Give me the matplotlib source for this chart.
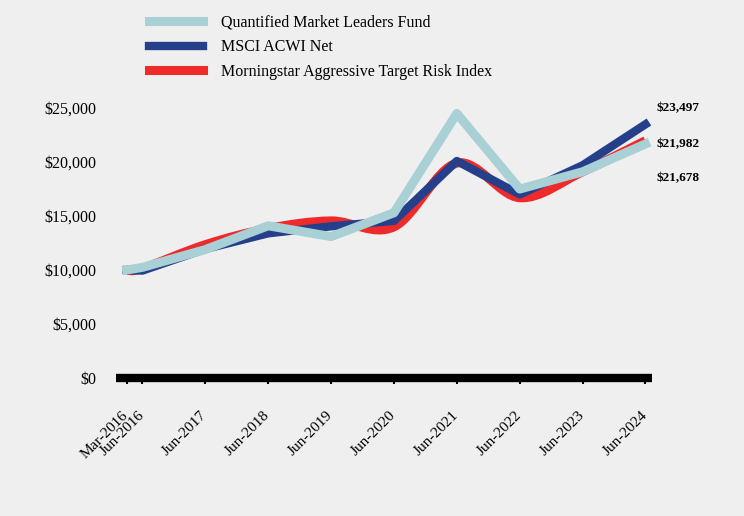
import numpy as np
import matplotlib.pyplot as plt
import matplotlib.transforms as mtransforms
from matplotlib.path import Path
from matplotlib.patches import PathPatch
from matplotlib.lines import Line2D

# data
periods = ["Mar-2016", "Jun-2016", "Jun-2017", "Jun-2018", "Jun-2019",
           "Jun-2020", "Jun-2021", "Jun-2022", "Jun-2023", "Jun-2024"]
x_pos = [2016.17, 2016.42, 2017.42, 2018.42, 2019.42,
         2020.42, 2021.42, 2022.42, 2023.42, 2024.42]
fund = [10000, 10250, 11900, 14100, 13100, 15300, 24500, 17500, 19100, 21678]
acwi = [10000, 9950, 11950, 13400, 14050, 14550, 20100, 17000, 19700, 23497]
morningstar = [10000, 10150, 12350, 13850, 14550, 14000, 19900, 16700, 19100, 21982]
end_labels = ["$23,497", "$21,982", "$21,678"]

BG = '#efefef'
C_FUND = '#a8d0d5'
C_ACWI = '#253f8b'
C_MS = '#ee2a2a'

plt.rcParams['font.family'] = ['Liberation Serif', 'DejaVu Serif']

fig = plt.figure(figsize=(7.44, 5.16), dpi=100, facecolor=BG)
ax = fig.add_axes([0.156, 0.2674, 0.72, 0.565], facecolor=BG)


def smooth_path(xs, ys, t=0.5):
    # catmull-rom style bezier through the points (drawing only)
    pts = np.column_stack([xs, ys]).astype(float)
    verts = [tuple(pts[0])]
    codes = [Path.MOVETO]
    n = len(pts)
    for i in range(n - 1):
        p0 = pts[max(i - 1, 0)]
        p1 = pts[i]
        p2 = pts[i + 1]
        p3 = pts[min(i + 2, n - 1)]
        c1 = p1 + (p2 - p0) * t / 3
        c2 = p2 - (p3 - p1) * t / 3
        verts += [tuple(c1), tuple(c2), tuple(p2)]
        codes += [Path.CURVE4] * 3
    return Path(verts, codes)


ax.add_patch(PathPatch(smooth_path(x_pos, morningstar), fill=False,
                       edgecolor=C_MS, lw=6.5, zorder=2))
ax.plot(x_pos, acwi, color=C_ACWI, lw=6, zorder=3)
ax.plot(x_pos, fund, color=C_FUND, lw=6.5, zorder=4)

ax.set_xlim(2016.0, 2024.52)
ax.set_ylim(0, 27000)
ax.set_yticks(range(0, 25001, 5000))
ax.set_yticklabels(['$0', '$5,000', '$10,000', '$15,000', '$20,000', '$25,000'],
                   fontsize=11.5)
ax.tick_params(axis='y', length=0, pad=14.5)
ax.set_xticks(x_pos)
ax.set_xticklabels(periods, rotation=45, ha='right', va='top',
                   rotation_mode='anchor', fontsize=11)
ax.tick_params(axis='x', length=4, width=1.5, pad=18, direction='out')
shift = mtransforms.ScaledTranslation(-5 / 100, 0, fig.dpi_scale_trans)
for lbl in ax.get_xticklabels():
    lbl.set_transform(lbl.get_transform() + shift)

for s in ['top', 'right', 'left']:
    ax.spines[s].set_visible(False)
ax.spines['bottom'].set_linewidth(6)
ax.spines['bottom'].set_capstyle('butt')

# end value labels
for lab, yv in zip(end_labels, [25000, 21700, 18550]):
    ax.text(2024.6, yv, lab, fontsize=9.5, fontweight='bold',
            va='center', ha='left', clip_on=False)

handles = [Line2D([], [], color=C_FUND, lw=6.5),
           Line2D([], [], color=C_ACWI, lw=6),
           Line2D([], [], color=C_MS, lw=6.5)]
fig.legend(handles, ["Quantified Market Leaders Fund", "MSCI ACWI Net",
                     "Morningstar Aggressive Target Risk Index"],
           loc='upper left', bbox_to_anchor=(0.181, 1.0), frameon=False,
           fontsize=11.5, handlelength=3.4, handletextpad=1.1, labelspacing=0.55)

fig.savefig('out.png', dpi=100, facecolor=BG)
